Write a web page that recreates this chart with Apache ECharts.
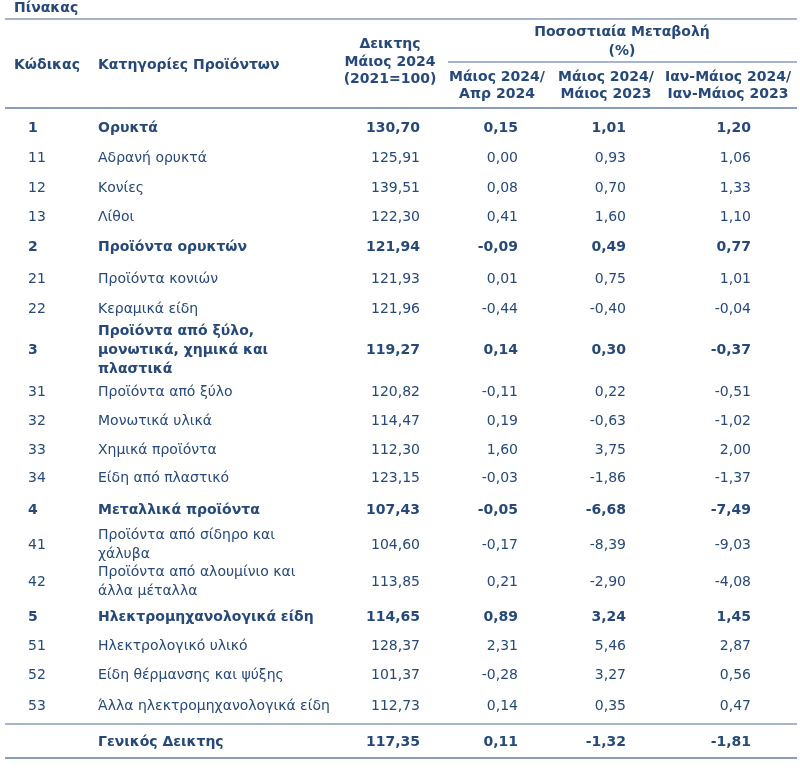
<!DOCTYPE html>
<html>
<head>
<meta charset="utf-8">
<script src="https://cdn.jsdelivr.net/npm/echarts@6/dist/echarts.min.js"></script>
<style>html,body{margin:0;padding:0;background:#fff}#c{width:800px;height:782px}</style>
</head>
<body>
<div id="c"></div>
<script>
// ---- data ----
const tableTitle = 'Πίνακας';
const headerLabels = [
  'Κώδικας',
  'Κατηγορίες Προϊόντων',
  'Δεικτης\nΜάιος 2024\n(2021=100)',
  'Ποσοστιαία Μεταβολή\n(%)',
  'Μάιος 2024/\nΑπρ 2024',
  'Μάιος 2024/\nΜάιος 2023',
  'Ιαν-Μάιος 2024/\nΙαν-Μάιος 2023'
];
const codes = ['1','11','12','13','2','21','22','3','31','32','33','34','4','41','42','5','51','52','53',''];
const categories = [
  'Ορυκτά',
  'Αδρανή ορυκτά',
  'Κονίες',
  'Λίθοι',
  'Προϊόντα ορυκτών',
  'Προϊόντα κονιών',
  'Κεραμικά είδη',
  'Προϊόντα από ξύλο,\nμονωτικά, χημικά και\nπλαστικά',
  'Προϊόντα από ξύλο',
  'Μονωτικά υλικά',
  'Χημικά προϊόντα',
  'Είδη από πλαστικό',
  'Μεταλλικά προϊόντα',
  'Προϊόντα από σίδηρο και\nχάλυβα',
  'Προϊόντα από αλουμίνιο και\nάλλα μέταλλα',
  'Ηλεκτρομηχανολογικά είδη',
  'Ηλεκτρολογικό υλικό',
  'Είδη θέρμανσης και ψύξης',
  'Άλλα ηλεκτρομηχανολογικά είδη',
  'Γενικός Δεικτης'
];
const indexValues = [130.70,125.91,139.51,122.30,121.94,121.93,121.96,119.27,120.82,114.47,112.30,123.15,107.43,104.60,113.85,114.65,128.37,101.37,112.73,117.35];
const changeMonth = [0.15,0.00,0.08,0.41,-0.09,0.01,-0.44,0.14,-0.11,0.19,1.60,-0.03,-0.05,-0.17,0.21,0.89,2.31,-0.28,0.14,0.11];
const changeYear  = [1.01,0.93,0.70,1.60,0.49,0.75,-0.40,0.30,0.22,-0.63,3.75,-1.86,-6.68,-8.39,-2.90,3.24,5.46,3.27,0.35,-1.32];
const changeYtd   = [1.20,1.06,1.33,1.10,0.77,1.01,-0.04,-0.37,-0.51,-1.02,2.00,-1.37,-7.49,-9.03,-4.08,1.45,2.87,0.56,0.47,-1.81];

// ---- layout / style ----
const FONT = 'Verdana, "DejaVu Sans", sans-serif';
const TEXT = '#26497a';
const RULE = '#8a9dbb';
const rowY = [128,158,188,217,247,279,309,350,392,421,450,478,510,545,582,617,646,675,706,742];
const colCode = 28, colCat = 98;
const numCols = [420, 518, 626, 751];
const headerPos = [
  {x:14, y:65, align:'left', lh:18},
  {x:98, y:65, align:'left', lh:18},
  {x:390, y:62, align:'center', lh:17.5},
  {x:622, y:42, align:'center', lh:19},
  {x:497, y:86, align:'center', lh:17},
  {x:606, y:86, align:'center', lh:17},
  {x:728, y:86, align:'center', lh:17}
];
const rules = [
  {x1:5, x2:797, y:19, w:1.5},
  {x1:448, x2:797, y:62, w:1.5},
  {x1:5, x2:797, y:108, w:2},
  {x1:5, x2:797, y:724, w:1.5},
  {x1:5, x2:797, y:758, w:2}
];
const fmt = v => v.toFixed(2).replace('.', ',');
const isBold = i => codes[i].length <= 1;

function txt(api, x, y, text, align, bold, lh) {
  const p = api.coord([x, y]);
  return {
    type: 'text', x: p[0], y: p[1],
    style: { text: text, fill: TEXT, fontFamily: FONT, fontSize: 14,
             fontWeight: bold ? 'bold' : 'normal', align: align,
             verticalAlign: 'middle', lineHeight: lh || 19 }
  };
}

const chart = echarts.init(document.getElementById('c'), null, {renderer: 'canvas'});
chart.setOption({
  animation: false,
  backgroundColor: '#fff',
  title: { text: tableTitle, left: 14, top: 1, padding: 0,
           textStyle: { fontFamily: FONT, fontSize: 14, fontWeight: 'bold', color: TEXT } },
  grid: { left: 0, right: 0, top: 0, bottom: 0 },
  xAxis: { type: 'value', min: 0, max: 800, show: false },
  yAxis: { type: 'value', min: 0, max: 782, inverse: true, show: false },
  series: [
    {
      type: 'custom', silent: true, clip: false,
      data: rules.map((r, i) => [r.x1, r.y, i]),
      renderItem: function (params, api) {
        const r = rules[params.dataIndex];
        const a = api.coord([r.x1, r.y]), b = api.coord([r.x2, r.y]);
        return { type: 'line', shape: { x1: a[0], y1: a[1], x2: b[0], y2: b[1] },
                 style: { stroke: RULE, lineWidth: r.w } };
      }
    },
    {
      type: 'custom', silent: true, clip: false,
      data: headerLabels.map((h, i) => [headerPos[i].x, headerPos[i].y, i]),
      renderItem: function (params, api) {
        const i = params.dataIndex, hp = headerPos[i];
        return txt(api, hp.x, hp.y, headerLabels[i], hp.align, true, hp.lh);
      }
    },
    {
      type: 'custom', silent: true, clip: false,
      data: codes.map((c, i) => [colCat, rowY[i], i]),
      renderItem: function (params, api) {
        const i = params.dataIndex, y = rowY[i], b = isBold(i);
        const vals = [indexValues[i], changeMonth[i], changeYear[i], changeYtd[i]];
        const children = [
          txt(api, colCode, y, codes[i], 'left', b),
          txt(api, colCat, y, categories[i], 'left', b)
        ];
        vals.forEach((v, k) => children.push(txt(api, numCols[k], y, fmt(v), 'right', b)));
        return { type: 'group', children: children };
      }
    }
  ]
});
</script>
</body>
</html>
